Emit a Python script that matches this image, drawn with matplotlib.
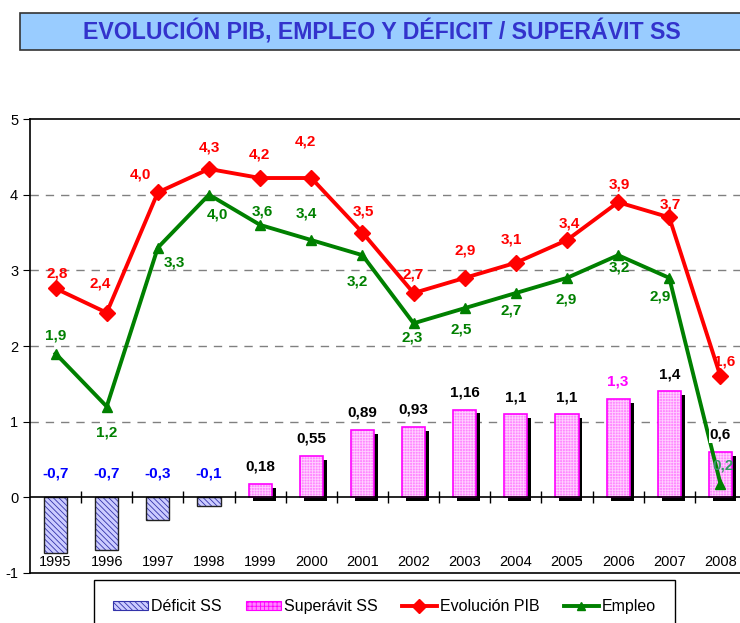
import matplotlib
matplotlib.use("Agg")
import matplotlib.pyplot as plt
import matplotlib.patheffects as pe
from matplotlib.patches import Rectangle, Patch
from matplotlib.lines import Line2D

plt.rcParams['font.family'] = ['Liberation Sans', 'DejaVu Sans']
plt.rcParams['axes.unicode_minus'] = False
plt.rcParams['hatch.linewidth'] = 0.6

# Data
years = ['1995', '1996', '1997', '1998', '1999', '2000', '2001',
         '2002', '2003', '2004', '2005', '2006', '2007', '2008']
deficit = [-0.73, -0.69, -0.30, -0.12]
deficit_labels = ['-0,7', '-0,7', '-0,3', '-0,1']
superavit = [0.18, 0.55, 0.89, 0.93, 1.16, 1.1, 1.1, 1.3, 1.4, 0.6]
superavit_labels = ['0,18', '0,55', '0,89', '0,93', '1,16', '1,1', '1,1', '1,3', '1,4', '0,6']
pib = [2.76, 2.44, 4.03, 4.34, 4.22, 4.22, 3.5, 2.7, 2.9, 3.1, 3.4, 3.9, 3.7, 1.6]
pib_labels = ['2,8', '2,4', '4,0', '4,3', '4,2', '4,2', '3,5', '2,7', '2,9', '3,1', '3,4', '3,9', '3,7', '1,6']
empleo = [1.9, 1.2, 3.3, 4.0, 3.6, 3.4, 3.2, 2.3, 2.5, 2.7, 2.9, 3.2, 2.9, 0.18]
empleo_labels = ['1,9', '1,2', '3,3', '4,0', '3,6', '3,4', '3,2', '2,3', '2,5', '2,7', '2,9', '3,2', '2,9', '0,2']

# label offsets in pixels (dx, dy)
pib_off = [(2, 15), (-7, 29), (-17, 18), (0, 21), (-1, 24), (-6, 37), (1, 21),
           (0, 19), (0, 27), (-4, 23), (2, 17), (1, 18), (1, 13), (4, 15)]
emp_off = [(0, 18), (0, -26), (17, -15), (8, -20), (2, 13), (-5, 27), (-5, -26),
           (-1, -14), (-4, -21), (-5, -17), (-1, -22), (1, -12), (-9, -19), (3, 18)]

RED = '#FF0000'
GREEN = '#008000'
BLUE = '#0000FF'
PINK = '#FF88FF'
MAGENTA = '#FF00FF'
DHATCH = '\\\\\\\\\\\\'

fig = plt.figure(figsize=(7.4, 6.23), dpi=100)

# title banner
fig.patches.append(Rectangle((20 / 740, 1 - 50 / 623), 1.0, 37 / 623, transform=fig.transFigure,
                             facecolor='#99CCFF', edgecolor='#333333', linewidth=1.2))
fig.text(382 / 740, 1 - 32 / 623, 'EVOLUCIÓN PIB, EMPLEO Y DÉFICIT / SUPERÁVIT SS',
         ha='center', va='center', fontsize=16.7, fontweight='bold', color='#3333CC',
         family=['Liberation Sans Narrow', 'Liberation Sans'])

ax = fig.add_axes([30 / 740, 1 - 573 / 623, 716 / 740, 454 / 623])
x = list(range(len(years)))
ax.set_xlim(-0.5, len(years) - 0.5)
ax.set_ylim(-1, 5)

# grid
for g in [1, 2, 3, 4]:
    ax.axhline(g, color='#808080', lw=1, ls=(0, (6, 5)), zorder=0)

w = 0.45
# deficit bars
xd = x[:len(deficit)]
ax.bar(xd, deficit, width=w, color='#CCCCFF', edgecolor='#3333AA', hatch=DHATCH,
       linewidth=0, zorder=2)
ax.bar(xd, deficit, width=w, color='none', edgecolor='#222222', linewidth=1, zorder=2)
for xi, v, lab in zip(xd, deficit, deficit_labels):
    ax.text(xi, 0.32, lab, ha='center', va='center', color=BLUE, fontsize=11, fontweight='bold')

# superavit bars
xs = x[len(deficit):]
shadow = ax.bar(xs, superavit, width=w, color=PINK, edgecolor='none', linewidth=0, zorder=2)
for b in shadow:
    b.set_path_effects([pe.SimplePatchShadow(offset=(2.8, -2.8), shadow_rgbFace='black', alpha=1),
                        pe.Normal()])
ax.bar(xs, superavit, width=w, color=PINK, edgecolor='#FFD0FF', hatch='++++++', linewidth=0, zorder=2)
ax.bar(xs, superavit, width=w, color='none', edgecolor=MAGENTA, linewidth=1.2, zorder=2)
for xi, v, lab in zip(xs, superavit, superavit_labels):
    col = MAGENTA if lab == '1,3' else 'black'
    bb = dict(facecolor='white', edgecolor='none', pad=0.5) if lab == '0,6' else None
    ax.annotate(lab, (xi, v), xytext=(0, 17), textcoords='offset pixels', ha='center', va='center',
                color=col, fontsize=11, fontweight='bold', bbox=bb, zorder=6)

# zero line with category ticks
ax.axhline(0, color='black', lw=1.2, zorder=3)
ax.plot([i + 0.5 for i in x[:-1]], [0] * (len(x) - 1), ls='none', marker='|', ms=9,
        mew=1, color='black', zorder=3)

# lines
ax.plot(x, empleo, color=GREEN, lw=2.8, marker='^', ms=7, zorder=5)
ax.plot(x, pib, color=RED, lw=2.8, marker='D', ms=8, zorder=5)
for xi, v, lab, o in zip(x, pib, pib_labels, pib_off):
    ax.annotate(lab, (xi, v), xytext=o, textcoords='offset pixels', ha='center', va='center',
                color=RED, fontsize=11, fontweight='bold', zorder=4)
for xi, v, lab, o in zip(x, empleo, empleo_labels, emp_off):
    col = '#339966' if lab == '0,2' else GREEN
    ax.annotate(lab, (xi, v), xytext=o, textcoords='offset pixels', ha='center', va='center',
                color=col, fontsize=11, fontweight='bold', zorder=7)

# year labels
for xi, y in zip(x, years):
    ax.text(xi, -0.86, y, ha='center', va='center', fontsize=10.5)

# axes styling
ax.set_xticks([])
ax.set_yticks([-1, 0, 1, 2, 3, 4, 5])
ax.tick_params(axis='y', length=5, labelsize=10.5, direction='out')
ax.spines['right'].set_visible(False)
for s in ['left', 'top', 'bottom']:
    ax.spines[s].set_linewidth(1.2)

# legend
handles = [
    Patch(facecolor='#CCCCFF', edgecolor='#3333AA', hatch=DHATCH, linewidth=0.8),
    Patch(facecolor=PINK, edgecolor=MAGENTA, hatch='++++', linewidth=0.8),
    Line2D([], [], color=RED, lw=2.8, marker='D', ms=7),
    Line2D([], [], color=GREEN, lw=2.8, marker='^', ms=6),
]
fig.legend(handles, ['Déficit SS', 'Superávit SS', 'Evolución PIB', 'Empleo'],
           loc='upper center', bbox_to_anchor=(384.5 / 740, 1 - 580 / 623), ncol=4,
           fontsize=11.5, frameon=True, fancybox=False, edgecolor='black', framealpha=1,
           handlelength=2.2, handleheight=0.55, handletextpad=0.2, columnspacing=1.5,
           borderpad=1.2, borderaxespad=0)

plt.savefig('out.png', dpi=100)
